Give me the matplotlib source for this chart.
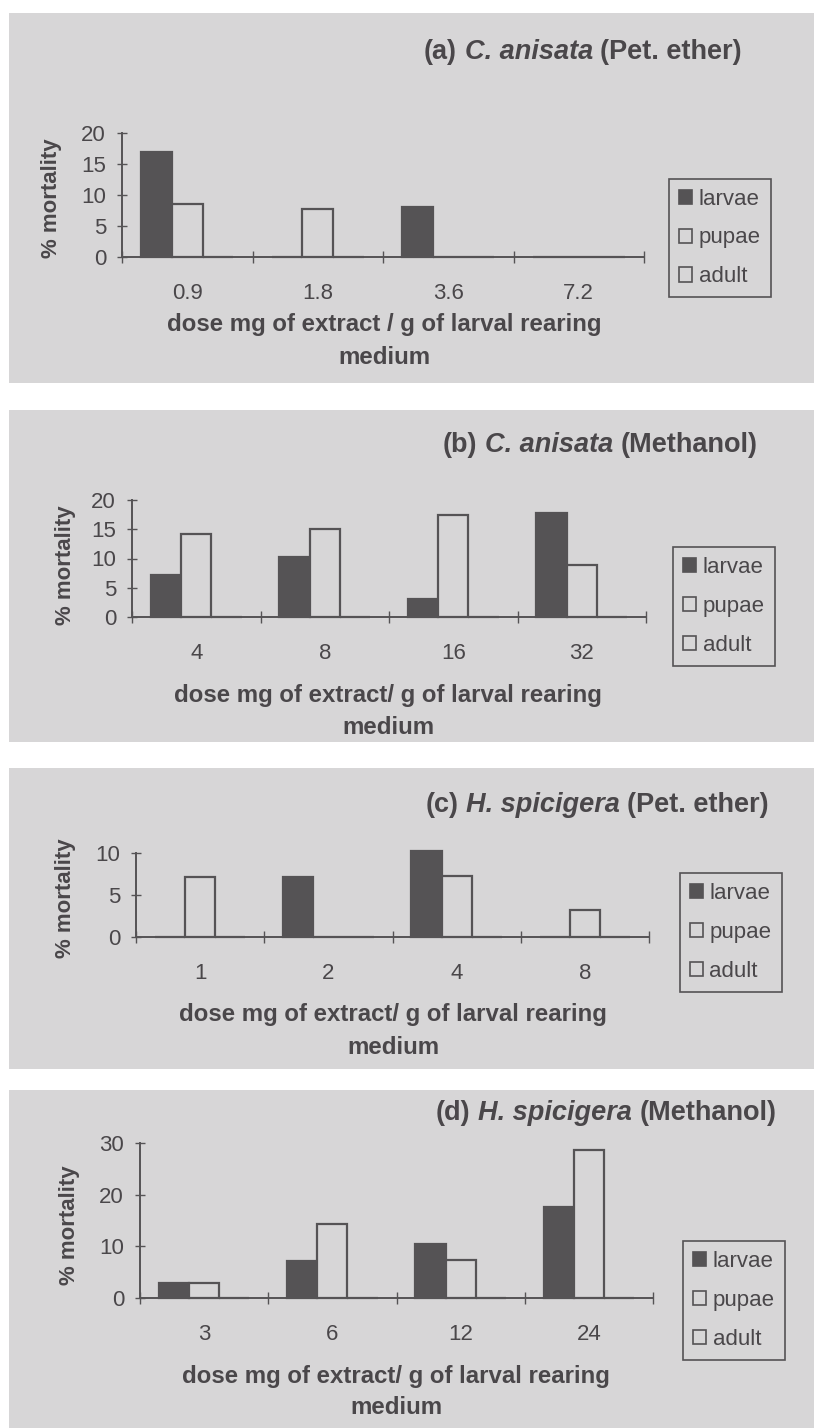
import matplotlib
matplotlib.use("Agg")
import matplotlib.pyplot as plt
from matplotlib.patches import Rectangle, Patch

W, H = 814, 1428
PANEL_GRAY = "#d7d6d7"
DARK = "#555355"
INK = "#4a474a"
FONT = ["Liberation Sans", "DejaVu Sans"]

series = ["larvae", "pupae", "adult"]

# (a) C. anisata, Pet. ether
doses_a = ["0.9", "1.8", "3.6", "7.2"]
larvae_a = [17.0, 0, 8.1, 0]
pupae_a = [8.5, 7.8, 0, 0]
adult_a = [0, 0, 0, 0]

# (b) C. anisata, Methanol
doses_b = ["4", "8", "16", "32"]
larvae_b = [7.1, 10.2, 3.1, 17.7]
pupae_b = [14.2, 15.0, 17.5, 8.9]
adult_b = [0, 0, 0, 0]

# (c) H. spicigera, Pet. ether
doses_c = ["1", "2", "4", "8"]
larvae_c = [0, 7.2, 10.2, 0]
pupae_c = [7.1, 0, 7.3, 3.2]
adult_c = [0, 0, 0, 0]

# (d) H. spicigera, Methanol
doses_d = ["3", "6", "12", "24"]
larvae_d = [2.9, 7.1, 10.5, 17.7]
pupae_d = [3.0, 14.3, 7.3, 28.6]
adult_d = [0, 0, 0, 0]

xlabel_a = "dose mg of extract / g of larval rearing"
xlabel_rest = "dose mg of extract/ g of larval rearing"

# layout in pixels (top-left origin)
panels = [
    dict(tag="(a)", sp="C. anisata", solv="(Pet. ether)", doses=doses_a,
         vals=(larvae_a, pupae_a, adult_a), xlabel=xlabel_a, ymax=20, ystep=5,
         box=(13, 383), ax=(122, 644, 133, 257), title=(583, 52),
         xl=(384, 325, 358), yl=(52, 198), leg=(669, 770, 173, 303)),
    dict(tag="(b)", sp="C. anisata", solv="(Methanol)", doses=doses_b,
         vals=(larvae_b, pupae_b, adult_b), xlabel=xlabel_rest, ymax=20, ystep=5,
         box=(410, 742), ax=(132, 646, 500, 617), title=(600, 445),
         xl=(388, 695, 728), yl=(65, 565), leg=(672, 775, 543, 670)),
    dict(tag="(c)", sp="H. spicigera", solv="(Pet. ether)", doses=doses_c,
         vals=(larvae_c, pupae_c, adult_c), xlabel=xlabel_rest, ymax=10, ystep=5,
         box=(768, 1069), ax=(136, 649, 853, 937), title=(597, 805),
         xl=(393, 1015, 1048), yl=(65, 898), leg=(680, 781, 869, 996)),
    dict(tag="(d)", sp="H. spicigera", solv="(Methanol)", doses=doses_d,
         vals=(larvae_d, pupae_d, adult_d), xlabel=xlabel_rest, ymax=30, ystep=10,
         box=(1090, 1428), ax=(140, 653, 1143, 1298), title=(606, 1113),
         xl=(396, 1376, 1408), yl=(70, 1225), leg=(683, 784, 1238, 1363)),
]


def fx(x):
    return x / W


def fy(y):
    return 1 - y / H


fig = plt.figure(figsize=(W / 100, H / 100), dpi=100, facecolor="white")
renderer = fig.canvas.get_renderer()


def text_width(s, **kw):
    t = fig.text(0, 0, s, **kw)
    w = t.get_window_extent(renderer).width
    t.remove()
    return w


def draw_title(parts, xc, yc, size):
    styles = ["normal", "italic", "normal"]
    widths = [text_width(p, fontsize=size, fontweight="bold", style=s, family=FONT)
              for p, s in zip(parts, styles)]
    gap = text_width("x x", fontsize=size, fontweight="bold", family=FONT) - \
        text_width("xx", fontsize=size, fontweight="bold", family=FONT)
    x = xc - (sum(widths) + 2 * gap) / 2
    for p, s, w in zip(parts, styles, widths):
        fig.text(fx(x), fy(yc), p, fontsize=size, fontweight="bold", style=s,
                 family=FONT, color=INK, va="center", ha="left")
        x += w + gap


bw = 0.235
offsets = [-bw, 0, bw]
faces = [DARK, PANEL_GRAY, PANEL_GRAY]

for p in panels:
    top, bot = p["box"]
    fig.patches.append(Rectangle((fx(9), fy(bot)), fx(W - 9), (bot - top) / H,
                                 transform=fig.transFigure, facecolor=PANEL_GRAY,
                                 edgecolor="none", zorder=-5))

    l, r, t, b = p["ax"]
    ax = fig.add_axes([fx(l), fy(b), (r - l) / W, (b - t) / H])
    ax.set_zorder(2)
    ax.patch.set_visible(False)
    xs = range(len(p["doses"]))
    handles = []
    for name, vals, off, fc in zip(series, p["vals"], offsets, faces):
        ax.bar([x + off for x in xs], vals, width=bw, facecolor=fc,
               edgecolor=DARK, linewidth=1.6, label=name, clip_on=False, zorder=3)
        handles.append(Patch(facecolor=fc, edgecolor=DARK, linewidth=1.2, label=name))

    ax.set_xlim(-0.5, len(p["doses"]) - 0.5)
    ax.set_ylim(0, p["ymax"])
    ax.set_yticks(range(0, p["ymax"] + 1, p["ystep"]))
    ax.set_xticks(list(xs))
    ax.set_xticklabels(p["doses"])
    ax.set_xticks([x - 0.5 for x in range(len(p["doses"]) + 1)], minor=True)
    for side in ("top", "right"):
        ax.spines[side].set_visible(False)
    for side in ("left", "bottom"):
        ax.spines[side].set_color(DARK)
        ax.spines[side].set_linewidth(1.4)
    ax.tick_params(axis="x", which="major", length=0, pad=19, labelsize=16,
                   labelcolor=INK)
    ax.tick_params(axis="x", which="minor", direction="inout", length=8,
                   color=DARK, width=1)
    ax.tick_params(axis="y", direction="inout", length=7, color=DARK, width=1,
                   pad=8, labelsize=16, labelcolor=INK)
    for lab in ax.get_xticklabels() + ax.get_yticklabels():
        lab.set_family(FONT)

    draw_title([p["tag"], p["sp"], p["solv"]], *p["title"], 19.5)

    xc, y1, y2 = p["xl"]
    fig.text(fx(xc), fy(y1), p["xlabel"], fontsize=17.3, fontweight="bold",
             family=FONT, color=INK, ha="center", va="center")
    fig.text(fx(xc), fy(y2), "medium", fontsize=17.3, fontweight="bold",
             family=FONT, color=INK, ha="center", va="center")
    fig.text(fx(p["yl"][0]), fy(p["yl"][1]), "% mortality", fontsize=16,
             fontweight="bold", family=FONT, color=INK, rotation=90,
             ha="center", va="center")

    ll, lr, lt, lb = p["leg"]
    leg = fig.legend(handles=handles, loc="center",
                     bbox_to_anchor=(fx((ll + lr) / 2), fy((lt + lb) / 2)),
                     bbox_transform=fig.transFigure, frameon=True, fancybox=False,
                     framealpha=1, facecolor=PANEL_GRAY, edgecolor=DARK,
                     prop={"family": FONT, "size": 16}, labelcolor=INK,
                     handlelength=0.6, handleheight=0.6, handletextpad=0.3,
                     labelspacing=0.8, borderpad=0.45, borderaxespad=0)
    leg.get_frame().set_linewidth(1.2)

fig.savefig("out.png", dpi=100, facecolor="white")
